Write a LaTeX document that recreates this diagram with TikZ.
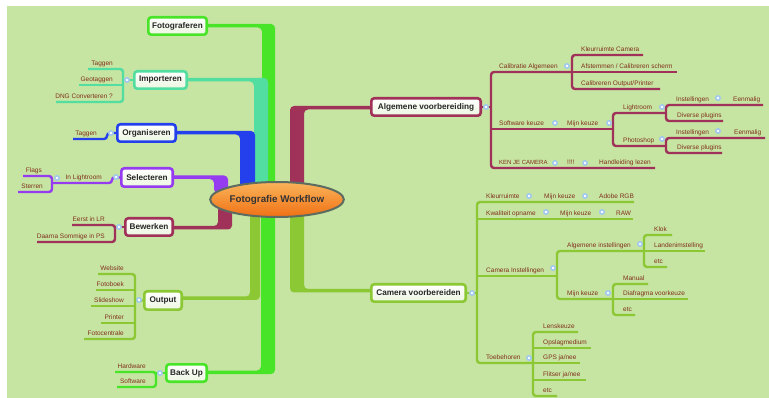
\documentclass[tikz,border=0pt]{standalone}
\usepackage{fontspec}
\setmainfont{Liberation Sans}
\usetikzlibrary{shapes.geometric}
\definecolor{bgcol}{RGB}{198,228,162}
\definecolor{cGreen}{RGB}{72,228,40}
\definecolor{cTeal}{RGB}{82,222,160}
\definecolor{cBlue}{RGB}{36,64,236}
\definecolor{cPurple}{RGB}{150,60,240}
\definecolor{cMaroon}{RGB}{160,50,90}
\definecolor{cOlive}{RGB}{140,200,52}
\definecolor{leaftxt}{RGB}{128,48,28}
\definecolor{mkblue}{RGB}{160,200,238}
\definecolor{nodebot}{RGB}{236,246,224}
\definecolor{ctrborder}{RGB}{92,108,96}
\definecolor{ctrtop}{RGB}{250,180,90}
\definecolor{ctrbot}{RGB}{240,112,20}
\pgfdeclarelayer{bgl}
\pgfdeclarelayer{lines}
\pgfsetlayers{bgl,lines,main}
\tikzset{
  mainnode/.style={draw=#1, line width=2.6pt, rounded corners=3pt, top color=white, bottom color=nodebot,
    font=\fontsize{8.2}{9}\selectfont\bfseries, text=black!85, inner sep=0pt, minimum height=17.4pt},
  leafR/.style={font=\fontsize{6.5}{7}\selectfont, text=leaftxt, inner sep=0pt, anchor=base east},
  leafL/.style={font=\fontsize{6.5}{7}\selectfont, text=leaftxt, inner sep=0pt, anchor=base west},
  ul/.style={draw=#1, line width=2.4pt, rounded corners=3pt},
  trunk/.style={fill=#1, rounded corners=4pt},
  mk/.pic={\fill[mkblue] (0,0) circle (3); \fill[white] (0,0) circle (1.4);}
}
\begin{document}
\begin{tikzpicture}[x=1pt,y=-1pt]
\useasboundingbox (0,0) rectangle (769,398);
\begin{pgfonlayer}{bgl}
\fill[white] (0,0) rectangle (769,398);
\fill[bgcol] (7,6) rectangle (769,398);
\end{pgfonlayer}

% main nodes
\node[mainnode=cGreen, minimum width=58.4pt] (fot) at (177.5,26) {Fotograferen};
\node[mainnode=cTeal, minimum width=52.4pt] (imp) at (160.5,80) {Importeren};
\node[mainnode=cBlue, minimum width=58.4pt] (org) at (146.5,133) {Organiseren};
\node[mainnode=cPurple, minimum width=51.4pt, minimum height=18.4pt] (sel) at (147,177.5) {Selecteren};
\node[mainnode=cMaroon, minimum width=47.4pt] (bew) at (149,227) {Bewerken};
\node[mainnode=cOlive, minimum width=37.4pt, minimum height=18.4pt] (out) at (163,300.5) {Output};
\node[mainnode=cGreen, minimum width=40.4pt] (bak) at (186.5,373) {Back Up};
\node[mainnode=cMaroon, minimum width=109.4pt] (alg) at (426,107) {Algemene voorbereiding};
\node[mainnode=cOlive, minimum width=94.4pt] (cam) at (418.5,293) {Camera voorbereiden};
\node[ellipse, draw=ctrborder, line width=2pt, top color=ctrtop, bottom color=ctrbot,
  minimum width=128pt, minimum height=35pt, inner sep=0pt,
  font=\fontsize{9.8}{11}\selectfont\bfseries, text=black!80] (ctr) at (277,199.5) {Fotografie Workflow};

\begin{pgfonlayer}{lines}
% trunks from the centre
\fill[trunk=cGreen] (fot.center |- 0,24) -- (275,24) -- (275,374) -- (bak.center |- 0,374) -- (bak.center |- 0,370.5) -- (261,370.5) -- (261,200) -- (262,200) -- (262,27.5) -- (fot.center |- 0,27.5) -- cycle;
\fill[trunk=cTeal] (imp.center |- 0,78) -- (268,78) -- (268,200) -- (254,200) -- (254,81.5) -- (imp.center |- 0,81.5) -- cycle;
\fill[trunk=cBlue] (org.center |- 0,131) -- (255,131) -- (255,200) -- (240,200) -- (240,134.5) -- (org.center |- 0,134.5) -- cycle;
\fill[trunk=cPurple] (sel.center |- 0,175.5) -- (228,175.5) -- (228,196) -- (214,193) -- (214,179) -- (sel.center |- 0,179) -- cycle;
\fill[trunk=cMaroon] (bew.center |- 0,229.5) -- (232,229.5) -- (232,204) -- (218,206) -- (218,226) -- (bew.center |- 0,226) -- cycle;
\fill[trunk=cMaroon] (alg.center |- 0,106) -- (290,106) -- (290,200) -- (304,200) -- (304,109.5) -- (alg.center |- 0,109.5) -- cycle;
\fill[trunk=cOlive] (out.center |- 0,296.5) -- (250,296.5) -- (250,200) -- (260,200) -- (260,300) -- (out.center |- 0,300) -- cycle;
\fill[trunk=cOlive] (cam.center |- 0,289) -- (304,289) -- (304,200) -- (290,200) -- (290,292.5) -- (cam.center |- 0,292.5) -- cycle;

% Importeren
\draw[ul=cTeal] (88,69) -- (123,69) -- (123,102) -- (56,102);
\draw[ul=cTeal] (79,85) -- (123,85);
\draw[ul=cTeal] (imp.west) -- (123,80);
% Organiseren
\draw[ul=cBlue] (73,139) -- (107,139) -- (107,133) -- (org.west);
% Selecteren
\draw[ul=cPurple] (52,183) -- (112,183) -- (112,177) -- (sel.west);
\draw[ul=cPurple] (23,176) -- (52,176) -- (52,192) -- (18,192);
% Bewerken
\draw[ul=cMaroon] (72,225) -- (115,225) -- (115,242) -- (37,242);
\draw[ul=cMaroon] (115,227) -- (bew.west);
% Output
\draw[ul=cOlive] (98,274) -- (135,274) -- (135,339) -- (84,339);
\draw[ul=cOlive] (96,290) -- (135,290);
\draw[ul=cOlive] (91,306) -- (135,306);
\draw[ul=cOlive] (101,323) -- (135,323);
\draw[ul=cOlive] (135,300) -- (out.west);
% Back Up
\draw[ul=cGreen] (115,372) -- (156,372) -- (156,387) -- (117,387);
\draw[ul=cGreen] (156,373) -- (bak.west);

% Algemene voorbereiding
\draw[ul=cMaroon] (alg.east) -- (491,107);
\draw[ul=cMaroon] (572,72) -- (491,72) -- (491,168) -- (655,168);
\draw[ul=cMaroon] (491,129) -- (613,129);
\draw[ul=cMaroon] (643,55) -- (572,55) -- (572,89) -- (660,89);
\draw[ul=cMaroon] (572,72) -- (677,72);
\draw[ul=cMaroon] (666,113) -- (613,113) -- (613,146) -- (666,146);
\draw[ul=cMaroon] (763,105) -- (666,105) -- (666,121) -- (723,121);
\draw[ul=cMaroon] (765,138) -- (666,138) -- (666,153) -- (722,153);

% Camera voorbereiden
\draw[ul=cOlive] (cam.east) -- (477,293);
\draw[ul=cOlive] (634,202) -- (477,202) -- (477,363) -- (533,363);
\draw[ul=cOlive] (477,219) -- (633,219);
\draw[ul=cOlive] (477,276) -- (557,276);
\draw[ul=cOlive] (644,251) -- (557,251) -- (557,299) -- (613,299);
\draw[ul=cOlive] (672,235) -- (644,235) -- (644,267) -- (667,267);
\draw[ul=cOlive] (644,251) -- (705,251);
\draw[ul=cOlive] (648,284) -- (613,284) -- (613,315) -- (635,315);
\draw[ul=cOlive] (613,299) -- (688,299);
\draw[ul=cOlive] (578,332) -- (533,332) -- (533,396) -- (557,396);
\draw[ul=cOlive] (533,348) -- (591,348);
\draw[ul=cOlive] (533,363) -- (580,363);
\draw[ul=cOlive] (533,380) -- (586,380);
\end{pgfonlayer}

% left leaves
\node[leafR] (i1) at (113,65.5) {Taggen};
\node[leafR] (i2) at (113,81.5) {Geotaggen};
\node[leafR] (i3) at (113,98.5) {DNG Converteren ?};
\node[leafR] (o1) at (97,135.5) {Taggen};
\node[leafR] (s1) at (102,179.5) {In Lightroom};
\node[leafR] (s2) at (42,172.5) {Flags};
\node[leafR] (s3) at (43,188.5) {Sterren};
\node[leafR] (b1) at (105,221.5) {Eerst in LR};
\node[leafR] (b2) at (105,238.5) {Daarna Sommige in PS};
\node[leafR] (u1) at (124,270.5) {Website};
\node[leafR] (u2) at (124,286.5) {Fotoboek};
\node[leafR] (u3) at (124,302.5) {Slideshow};
\node[leafR] (u4) at (124,319.5) {Printer};
\node[leafR] (u5) at (124,335.5) {Fotocentrale};
\node[leafR] (k1) at (146,368.5) {Hardware};
\node[leafR] (k2) at (146,383.5) {Software};

% right leaves: Algemene voorbereiding
\node[leafL] (a1) at (499,68.5) {Calibratie Algemeen};
\node[leafL] (a11) at (581,51.5) {Kleurruimte Camera};
\node[leafL] (a12) at (581,68.5) {Afstemmen / Calibreren scherm};
\node[leafL] (a13) at (581,85.5) {Calibreren Output/Printer};
\node[leafL] (a2) at (499,125.5) {Software keuze};
\node[leafL] (a21) at (567,125.5) {Mijn keuze};
\node[leafL] (a211) at (623,109.5) {Lightroom};
\node[leafL] (a2111) at (676,101.5) {Instellingen};
\node[leafL] (a2112) at (733,101.5) {Eenmalig};
\node[leafL] (a2113) at (677,117.5) {Diverse plugins};
\node[leafL] (a212) at (623,142.5) {Photoshop};
\node[leafL] (a2121) at (676,134.5) {Instellingen};
\node[leafL] (a2122) at (734,134.5) {Eenmalig};
\node[leafL] (a2123) at (677,149.5) {Diverse plugins};
\node[leafL, font=\fontsize{6.0}{7}\selectfont] (a3) at (499,164.5) {KEN JE CAMERA};
\node[leafL] (a31) at (567,164.5) {!!!!};
\node[leafL] (a32) at (599,164.5) {Handleiding lezen};

% right leaves: Camera voorbereiden
\node[leafL] (c1) at (486,198.5) {Kleurruimte};
\node[leafL] (c11) at (544,198.5) {Mijn keuze};
\node[leafL] (c12) at (599,198.5) {Adobe RGB};
\node[leafL] (c2) at (486,215.5) {Kwaliteit opname};
\node[leafL] (c21) at (560,215.5) {Mijn keuze};
\node[leafL] (c22) at (616,215.5) {RAW};
\node[leafL] (c3) at (486,272.5) {Camera Instellingen};
\node[leafL] (c31) at (567,247.5) {Algemene instellingen};
\node[leafL] (c311) at (654,231.5) {Klok};
\node[leafL] (c312) at (654,247.5) {Landenimstelling};
\node[leafL] (c313) at (654,263.5) {etc};
\node[leafL] (c32) at (567,295.5) {Mijn keuze};
\node[leafL] (c321) at (623,280.5) {Manual};
\node[leafL] (c322) at (623,295.5) {Diafragma voorkeuze};
\node[leafL] (c323) at (623,311.5) {etc};
\node[leafL] (c4) at (486,359.5) {Toebehoren};
\node[leafL] (c41) at (543,328.5) {Lenskeuze};
\node[leafL] (c42) at (543,344.5) {Opslagmedium};
\node[leafL] (c43) at (543,359.5) {GPS ja/nee};
\node[leafL] (c44) at (543,376.5) {Flitser ja/nee};
\node[leafL] (c45) at (543,392.5) {etc};

% collapse markers
\foreach \p in {(127,80),(111,133),(116,177),(57,178),(119,227),(139,300),(160,373),
  (486,107),(567,66),(555,123),(609,123),(662,107),(718,98),(662,139),(718,131),(555,163),(585,163),
  (472,293),(529,196),(585,196),(546,212),(602,212),(553,268),(640,244),(608,293),(529,358)}
  \pic at \p {mk};
\end{tikzpicture}
\end{document}
